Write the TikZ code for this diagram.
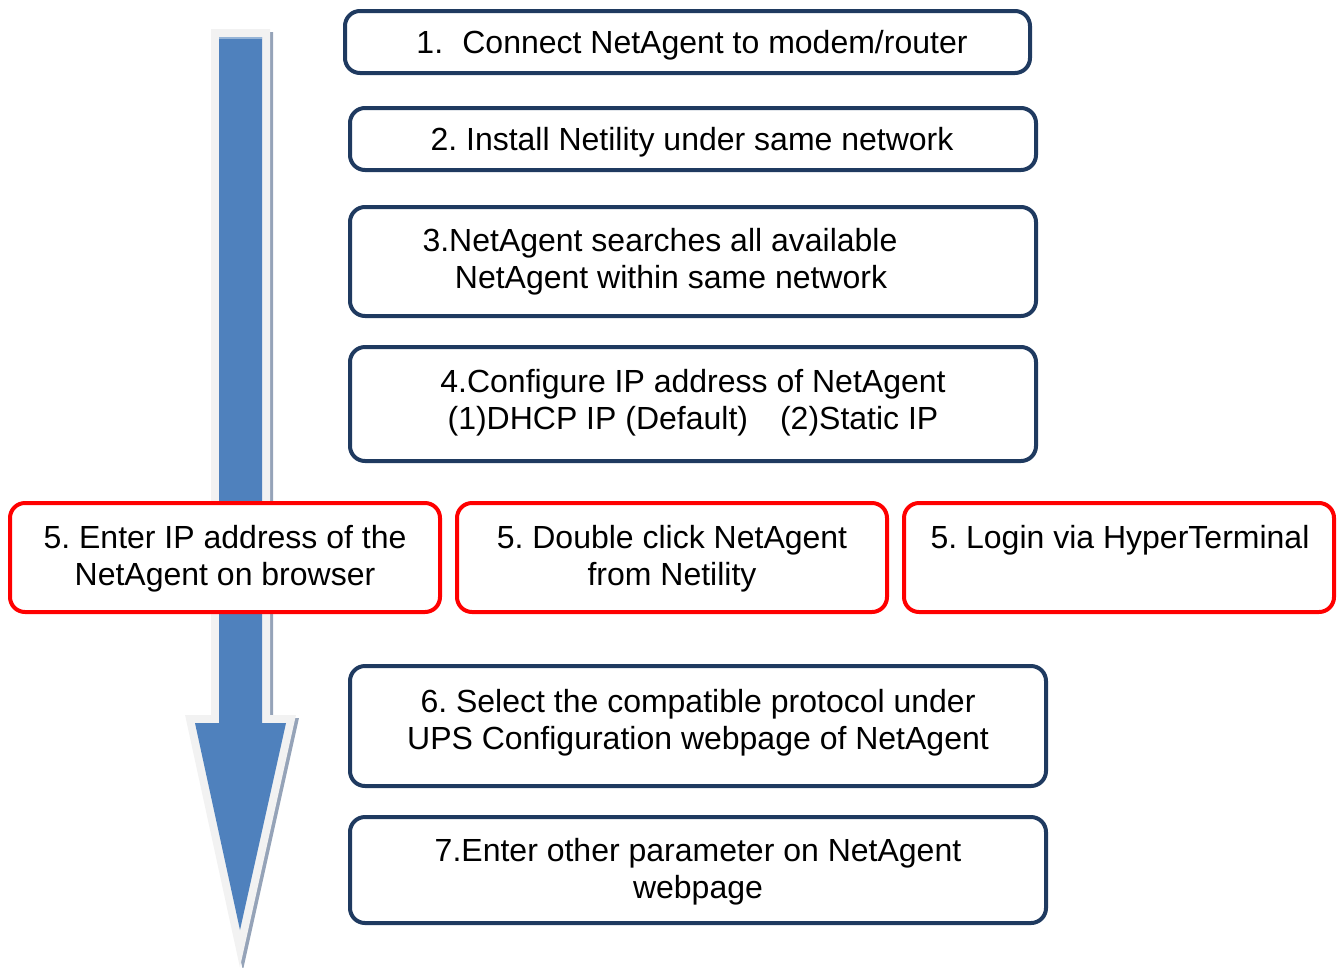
\documentclass[tikz,border=0pt]{standalone}
\usepackage{fontspec}
\setmainfont{Liberation Sans}
\frenchspacing
\definecolor{navy}{HTML}{1F3A60}
\definecolor{arrblue}{HTML}{4F81BD}
\definecolor{arrrim}{HTML}{F2F2F2}
\definecolor{arrshadow}{HTML}{95A3B8}
\begin{document}
\begin{tikzpicture}[x=1pt,y=-1pt,
  stepbox/.style={draw=navy,line width=4pt,rounded corners=15pt,fill=white},
  redbox/.style={draw=red,line width=4pt,rounded corners=15pt,fill=white},
  txt/.style={inner sep=0pt,anchor=base,align=center,font=\fontsize{32}{37}\selectfont}]
\useasboundingbox (0,0) rectangle (1338,967);
% arrow
\draw[arrshadow,line width=16pt,line join=miter,miter limit=20,fill=arrshadow,shift={(3,3)}]
  (219,37) -- (262,37) -- (262,723) -- (286,723) -- (240,930) -- (195,723) -- (219,723) -- cycle;
\draw[arrrim,line width=16pt,line join=miter,miter limit=20,fill=arrrim]
  (219,37) -- (262,37) -- (262,723) -- (286,723) -- (240,930) -- (195,723) -- (219,723) -- cycle;
\fill[arrblue] (219,37) -- (262,37) -- (262,723) -- (286,723) -- (240,930) -- (195,723) -- (219,723) -- cycle;
\draw[arrblue!60!white,line width=1.5pt] (219,38) -- (262,38);
% boxes
\draw[stepbox] (345,11) rectangle (1030,73);
\draw[stepbox] (350,108) rectangle (1036,170);
\draw[stepbox] (350,207) rectangle (1036,316);
\draw[stepbox] (350,347) rectangle (1036,461);
\draw[redbox] (10,503) rectangle (440,612);
\draw[redbox] (457,503) rectangle (887,612);
\draw[redbox] (904,503) rectangle (1334,612);
\draw[stepbox] (350,666) rectangle (1046,786);
\draw[stepbox] (350,817) rectangle (1046,923);
% texts
\node[txt] (t1) at (692,53) {1.\hspace{0.6em}Connect NetAgent to modem/router};
\node[txt] (t2) at (692,150) {2. Install Netility under same network};
\node[txt] (t3a) at (660,251) {3.NetAgent searches all available};
\node[txt] (t3b) at (671,288) {NetAgent within same network};
\node[txt] (t4) at (693,429) {4.Configure IP address of NetAgent\\(1)DHCP IP (Default)\hspace{1em}(2)Static IP};
\node[txt] (t5a) at (225,585) {5. Enter IP address of the\\NetAgent on browser};
\node[txt] (t5b) at (672,585) {5. Double click NetAgent\\from Netility};
\node[txt] (t5c) at (1120,548) {5. Login via HyperTerminal};
\node[txt] (t6) at (698,749) {6. Select the compatible protocol under\\UPS Configuration webpage of NetAgent};
\node[txt] (t7) at (698,898) {7.Enter other parameter on NetAgent\\webpage};
\end{tikzpicture}
\end{document}
